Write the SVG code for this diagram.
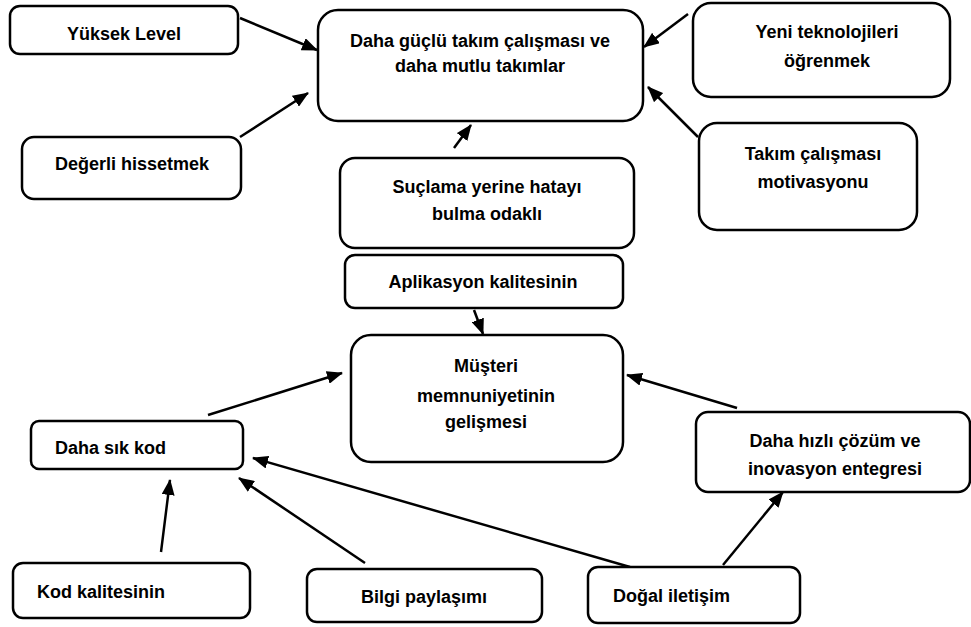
<svg xmlns="http://www.w3.org/2000/svg" width="971" height="627" viewBox="0 0 971 627">
  <defs>
    <marker id="arrow" viewBox="0 0 16 13" refX="15" refY="6.5" markerWidth="16" markerHeight="13" markerUnits="userSpaceOnUse" orient="auto">
      <path d="M0,0 L16,6.5 L0,13 z" fill="#000"/>
    </marker>
    <style>
      .box { fill: #fff; stroke: #000; stroke-width: 2.5; }
      .lbl { font-family: "Liberation Sans", Arial, sans-serif; font-weight: bold; font-size: 18px; fill: #000; }
      .c { text-anchor: middle; }
      .conn line { stroke: #000; stroke-width: 2.5; marker-end: url(#arrow); }
    </style>
  </defs>
  <rect width="971" height="627" fill="#fff"/>

  <!-- connectors -->
  <g id="connectors" class="conn">
    <line x1="240" y1="18" x2="317" y2="50"/>
    <line x1="240" y1="137" x2="308" y2="93"/>
    <line x1="688" y1="14" x2="644" y2="47"/>
    <line x1="698" y1="137" x2="648" y2="87"/>
    <line x1="454" y1="148" x2="471" y2="125"/>
    <line x1="474" y1="310" x2="483" y2="334"/>
    <line x1="208" y1="415" x2="342" y2="373"/>
    <line x1="737" y1="408" x2="627" y2="375"/>
    <line x1="161" y1="552" x2="170" y2="480"/>
    <line x1="365" y1="563" x2="239" y2="478"/>
    <line x1="630" y1="567" x2="253" y2="458"/>
    <line x1="723" y1="565" x2="783" y2="492"/>
  </g>

  <!-- nodes -->
  <g id="yuksek-level">
    <rect class="box" x="10" y="6" width="228" height="48" rx="10"/>
    <text class="lbl c" x="124" y="40">Yüksek Level</text>
  </g>
  <g id="degerli-hissetmek">
    <rect class="box" x="22" y="137" width="219" height="62" rx="12"/>
    <text class="lbl c" x="132" y="170">Değerli hissetmek</text>
  </g>
  <g id="guclu-takim">
    <rect class="box" x="318" y="10" width="325" height="111" rx="20"/>
    <text class="lbl c" x="480" y="47">Daha güçlü takım çalışması ve</text>
    <text class="lbl c" x="480" y="72">daha mutlu takımlar</text>
  </g>
  <g id="yeni-teknolojiler">
    <rect class="box" x="693" y="3" width="257" height="94" rx="18"/>
    <text class="lbl c" x="827" y="38">Yeni teknolojileri</text>
    <text class="lbl c" x="827" y="67">öğrenmek</text>
  </g>
  <g id="takim-motivasyonu">
    <rect class="box" x="699" y="123" width="218" height="107" rx="18"/>
    <text class="lbl c" x="813" y="160">Takım çalışması</text>
    <text class="lbl c" x="813" y="188">motivasyonu</text>
  </g>
  <g id="suclama">
    <rect class="box" x="340" y="158" width="294" height="90" rx="15"/>
    <text class="lbl c" x="487" y="193">Suçlama yerine hatayı</text>
    <text class="lbl c" x="487" y="220">bulma odaklı</text>
  </g>
  <g id="aplikasyon-kalitesi">
    <rect class="box" x="345" y="255" width="278" height="53" rx="10"/>
    <text class="lbl c" x="483" y="288">Aplikasyon kalitesinin</text>
  </g>
  <g id="musteri-memnuniyeti">
    <rect class="box" x="351" y="335" width="272" height="127" rx="20"/>
    <text class="lbl c" x="486" y="372">Müşteri</text>
    <text class="lbl c" x="486" y="402">memnuniyetinin</text>
    <text class="lbl c" x="486" y="428">gelişmesi</text>
  </g>
  <g id="daha-sik-kod">
    <rect class="box" x="31" y="421" width="212" height="48" rx="8"/>
    <text class="lbl" x="55" y="454">Daha sık kod</text>
  </g>
  <g id="daha-hizli-cozum">
    <rect class="box" x="696" y="412" width="274" height="80" rx="12"/>
    <text class="lbl c" x="835" y="447">Daha hızlı çözüm ve</text>
    <text class="lbl c" x="835" y="475">inovasyon entegresi</text>
  </g>
  <g id="kod-kalitesi">
    <rect class="box" x="13" y="563" width="237" height="55" rx="10"/>
    <text class="lbl" x="37" y="598">Kod kalitesinin</text>
  </g>
  <g id="bilgi-paylasimi">
    <rect class="box" x="307" y="569" width="235" height="53" rx="10"/>
    <text class="lbl c" x="424" y="603">Bilgi paylaşımı</text>
  </g>
  <g id="dogal-iletisim">
    <rect class="box" x="588" y="567" width="212" height="56" rx="10"/>
    <text class="lbl" x="613" y="602">Doğal iletişim</text>
  </g>
</svg>
